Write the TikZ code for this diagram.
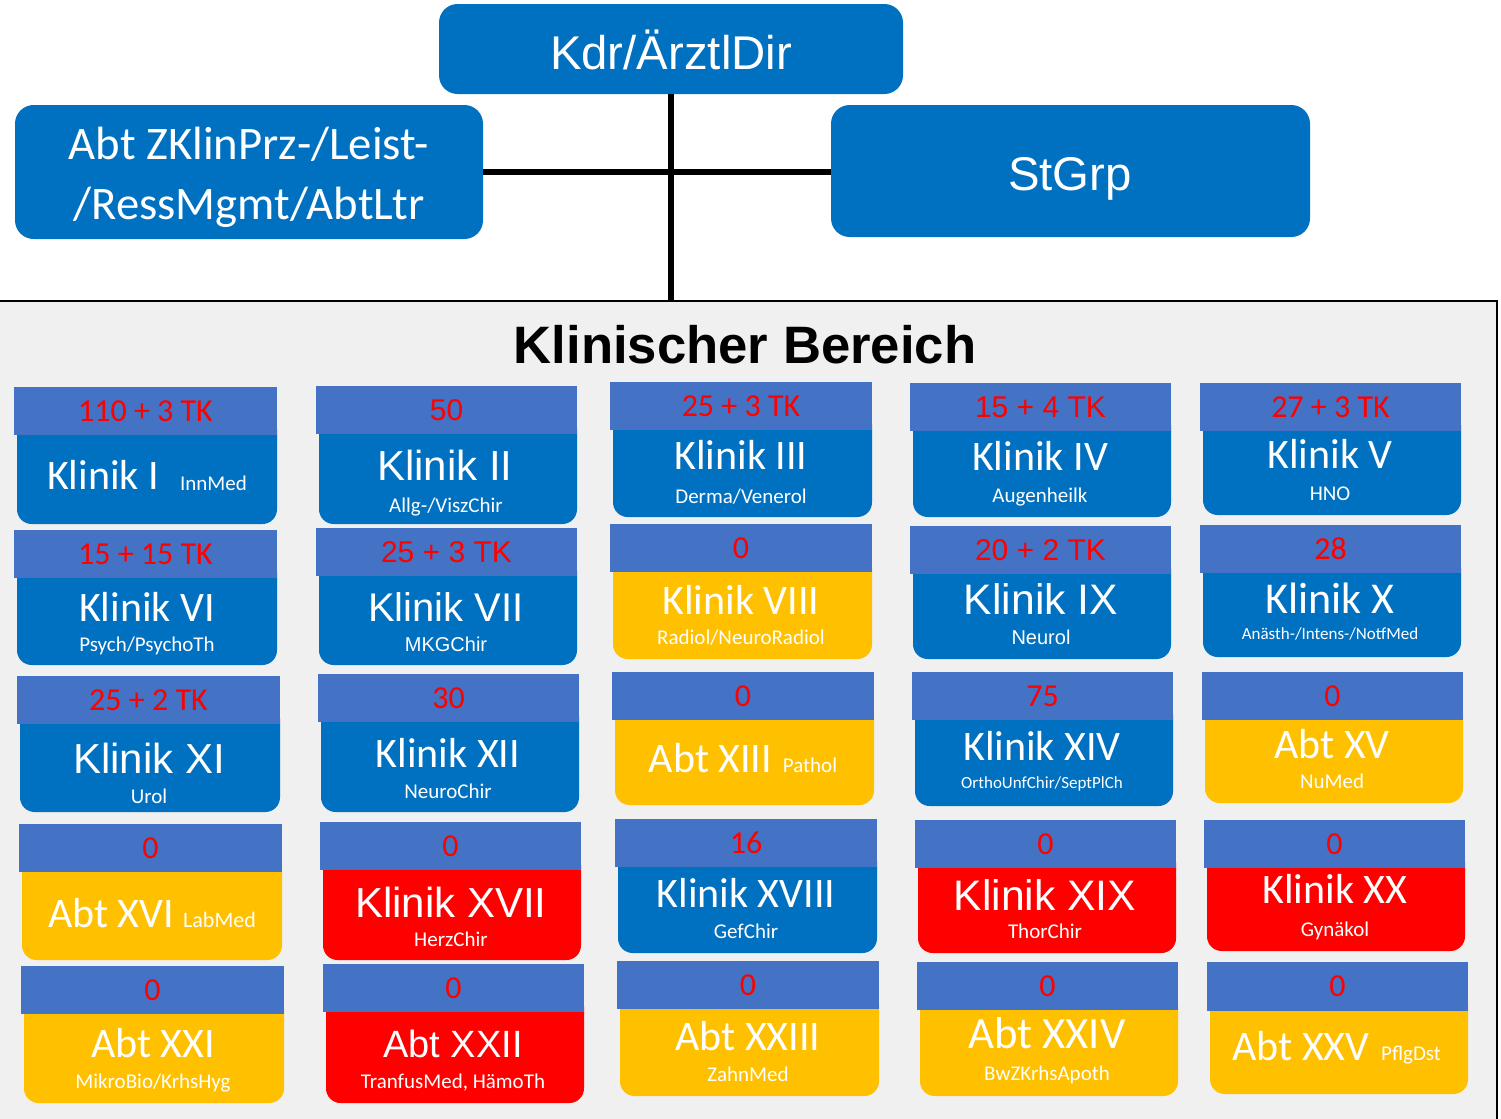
\documentclass[tikz,border=0pt]{standalone}
\usepackage{fontspec}
\usetikzlibrary{fit}
\newfontfamily\calfont{Carlito}
\newfontfamily\arifont{Liberation Sans}
\newcommand\fs[1]{\fontsize{#1}{#1}\selectfont}
\definecolor{hdrblue}{HTML}{4472C4}
\definecolor{boxblue}{HTML}{0070C0}
\definecolor{boxyel}{HTML}{FFC000}
\definecolor{boxred}{HTML}{FF0000}
\definecolor{numred}{HTML}{FF0000}
\definecolor{framebg}{HTML}{F0F0F0}
\tikzset{
  hdr/.style={fill=hdrblue, inner sep=0pt, outer sep=0pt, draw=none},
  bx/.style={inner sep=0pt, outer sep=0pt, draw=none, rounded corners=11pt},
  num/.style={text=numred, inner sep=0pt},
  lab/.style={text=white, inner sep=0pt, anchor=base},
  topbox/.style={fill=boxblue, draw=none, rounded corners=14pt, text=white, inner sep=0pt},
  conn/.style={line width=4.2pt, black},
  CM/.style={font=\calfont\fs{31.5}},
  AM/.style={font=\arifont\fs{31.5}},
  CS/.style={font=\calfont\fs{15.75}},
  AS/.style={font=\arifont\fs{15}},
  CT/.style={font=\calfont\fs{12.75}},
  CN/.style={font=\calfont\fs{24}},
  AN/.style={font=\arifont\fs{22.5}}
}
\newcommand\cell[8]{%
  \node[bx, fill=#7, fit={(#2+3,#5-20) (#3,#6)}] (#1b) {};
  \node[hdr, fit={(#2,#4) (#3,#5)}] (#1h) {};
  \node[num, #8] (#1n) at (#1h.center) {\pgfkeysvalueof{/cellnum}};
}
\pgfkeys{/cellnum/.initial={}}
\newcommand\cellx[9]{%
  \pgfkeys{/cellnum=#9}%
  \cell{#1}{#2}{#3}{#4}{#5}{#6}{#7}{#8}%
}
\newcommand\lbl[5]{\node[lab,#5] (#1) at (#2,#3) {#4};}
\begin{document}
\begin{tikzpicture}[x=0.75pt,y=-0.75pt]
\useasboundingbox (0,0) rectangle (1501,1118);
\clip (0,0) rectangle (1501,1118);
\fill[white] (0,0) rectangle (1501,1118);
% frame
\fill[framebg] (-5,301) rectangle (1497,1130);
\draw[line width=2.2pt] (-5,1130) -- (-5,301) -- (1497,301) -- (1497,1130);
\coordinate (frametop) at (671,301);
% top boxes
\node[topbox, minimum width=348pt, minimum height=67.5pt] (kdr) at (671,49) {};
\node[lab, font=\arifont\fs{35.5}] (kdrt) at (671,69) {Kdr/ÄrztlDir};
\node[topbox, minimum width=351pt, minimum height=100.5pt] (abt) at (249,172) {};
\node[lab, font=\calfont\fs{35}] (abtt1) at (249,159) {Abt ZKlinPrz-/Leist-};
\node[lab, font=\calfont\fs{35}] (abtt2) at (249,219) {/RessMgmt/AbtLtr};
\node[topbox, minimum width=359.25pt, minimum height=99pt] (stgrp) at (1070.5,171) {};
\node[lab, font=\arifont\fs{35.5}] (stgrpt) at (1070,190) {StGrp};
\draw[conn] (kdr.south) -- (frametop);
\draw[conn] (abt.east) -- (abt.east -| stgrp.west);
\node[anchor=base, inner sep=0pt, font=\arifont\bfseries\fs{39.5}] (title) at (745,363) {Klinischer Bereich};
% row 1
\cellx{c11}{14}{277}{387}{435}{524}{boxblue}{CN}{110 + 3 TK}
\cellx{c12}{316}{577}{386}{434}{524}{boxblue}{AN}{50}
\cellx{c13}{610}{872}{382}{430}{517}{boxblue}{CN}{25 + 3 TK}
\cellx{c14}{910}{1171}{383}{431}{517}{boxblue}{AN}{15 + 4 TK}
\cellx{c15}{1200}{1461}{383}{431}{515}{boxblue}{CN}{27 + 3 TK}
% row 2
\cellx{c21}{14}{277}{530}{578}{665}{boxblue}{CN}{15 + 15 TK}
\cellx{c22}{316}{577}{528}{576}{665}{boxblue}{AN}{25 + 3 TK}
\cellx{c23}{610}{872}{524}{572}{659}{boxyel}{CN}{0}
\cellx{c24}{910}{1171}{526}{574}{659}{boxblue}{AN}{20 + 2 TK}
\cellx{c25}{1200}{1461}{525}{573}{657}{boxblue}{CN}{28}
% row 3
\cellx{c31}{17}{280}{676}{724}{812}{boxblue}{CN}{25 + 2 TK}
\cellx{c32}{318}{579}{674}{722}{812}{boxblue}{CN}{30}
\cellx{c33}{612}{874}{672}{720}{805}{boxyel}{CN}{0}
\cellx{c34}{912}{1173}{672}{720}{806}{boxblue}{CN}{75}
\cellx{c35}{1202}{1463}{672}{720}{803}{boxyel}{CN}{0}
% row 4
\cellx{c41}{19}{282}{824}{872}{960}{boxyel}{CN}{0}
\cellx{c42}{320}{581}{822}{870}{960}{boxred}{CN}{0}
\cellx{c43}{615}{877}{819}{867}{953}{boxblue}{CN}{16}
\cellx{c44}{915}{1176}{820}{868}{953}{boxred}{CN}{0}
\cellx{c45}{1204}{1465}{820}{868}{951}{boxred}{CN}{0}
% row 5
\cellx{c51}{21}{284}{966}{1014}{1103}{boxyel}{CN}{0}
\cellx{c52}{323}{584}{964}{1012}{1103}{boxred}{CN}{0}
\cellx{c53}{617}{879}{961}{1009}{1096}{boxyel}{CN}{0}
\cellx{c54}{917}{1178}{962}{1010}{1096}{boxyel}{CN}{0}
\cellx{c55}{1207}{1468}{962}{1011}{1094}{boxyel}{CN}{0}
% labels row 1
\lbl{c11m}{103}{489}{Klinik I}{CM}
\lbl{c11s}{213.5}{490}{InnMed}{CS}
\lbl{c12m}{445}{480}{Klinik II}{AM}
\lbl{c12s}{446}{512}{Allg-/ViszChir}{CS}
\lbl{c13m}{741}{469}{Klinik III}{CM}
\lbl{c13s}{741}{503}{Derma/Venerol}{CS}
\lbl{c14m}{1040}{470}{Klinik IV}{CM}
\lbl{c14s}{1040}{502}{Augenheilk}{CS}
\lbl{c15m}{1330}{468}{Klinik V}{CM}
\lbl{c15s}{1330}{500}{HNO}{CS}
% labels row 2
\lbl{c21m}{147}{621}{Klinik VI}{CM}
\lbl{c21s}{147}{651}{Psych/PsychoTh}{CS}
\lbl{c22m}{446}{621}{Klinik VII}{font=\arifont\fs{30}}
\lbl{c22s}{446}{651}{MKGChir}{AS}
\lbl{c23m}{741}{614}{Klinik VIII}{CM}
\lbl{c23s}{741}{644}{Radiol/NeuroRadiol}{CS}
\lbl{c24m}{1041}{614}{Klinik IX}{font=\arifont\fs{32}}
\lbl{c24s}{1041}{644}{Neurol}{AS}
\lbl{c25m}{1330}{613}{Klinik X}{font=\calfont\fs{33}}
\lbl{c25s}{1330}{639}{Anästh-/Intens-/NotfMed}{CT}
% labels row 3
\lbl{c31m}{149}{773}{Klinik XI}{AM}
\lbl{c31s}{149}{803}{Urol}{CS}
\lbl{c32m}{448}{767}{Klinik XII}{CM}
\lbl{c32s}{448}{798}{NeuroChir}{CS}
\lbl{c33m}{710.5}{772}{Abt XIII}{CM}
\lbl{c33s}{810}{772}{Pathol}{CS}
\lbl{c34m}{1042}{760}{Klinik XIV}{CM}
\lbl{c34s}{1042}{788}{OrthoUnfChir/SeptPlCh}{CT}
\lbl{c35m}{1332}{758}{Abt XV}{CM}
\lbl{c35s}{1332}{788}{NuMed}{CS}
% labels row 4
\lbl{c41m}{111}{927}{Abt XVI}{CM}
\lbl{c41s}{219.5}{927}{LabMed}{font=\calfont\fs{16.5}}
\lbl{c42m}{451}{917}{Klinik XVII}{AM}
\lbl{c42s}{451}{946}{HerzChir}{CS}
\lbl{c43m}{746}{907}{Klinik XVIII}{CM}
\lbl{c43s}{746}{938}{GefChir}{CS}
\lbl{c44m}{1045}{910}{Klinik XIX}{font=\arifont\fs{32}}
\lbl{c44s}{1045}{938}{ThorChir}{CS}
\lbl{c45m}{1335}{903}{Klinik XX}{CM}
\lbl{c45s}{1335}{936}{Gynäkol}{CS}
% labels row 5
\lbl{c51m}{153}{1057}{Abt XXI}{CM}
\lbl{c51s}{153}{1088}{MikroBio/KrhsHyg}{CS}
\lbl{c52m}{453}{1057}{Abt XXII}{font=\arifont\fs{28.5}}
\lbl{c52s}{453}{1088}{TranfusMed, HämoTh}{CS}
\lbl{c53m}{748}{1050}{Abt XXIII}{CM}
\lbl{c53s}{748}{1081}{ZahnMed}{CS}
\lbl{c54m}{1047}{1048}{Abt XXIV}{font=\calfont\fs{33.5}}
\lbl{c54s}{1047}{1080}{BwZKrhsApoth}{CS}
\lbl{c55m}{1301}{1060}{Abt XXV}{CM}
\lbl{c55s}{1411}{1060}{PflgDst}{CS}
\end{tikzpicture}
\end{document}
